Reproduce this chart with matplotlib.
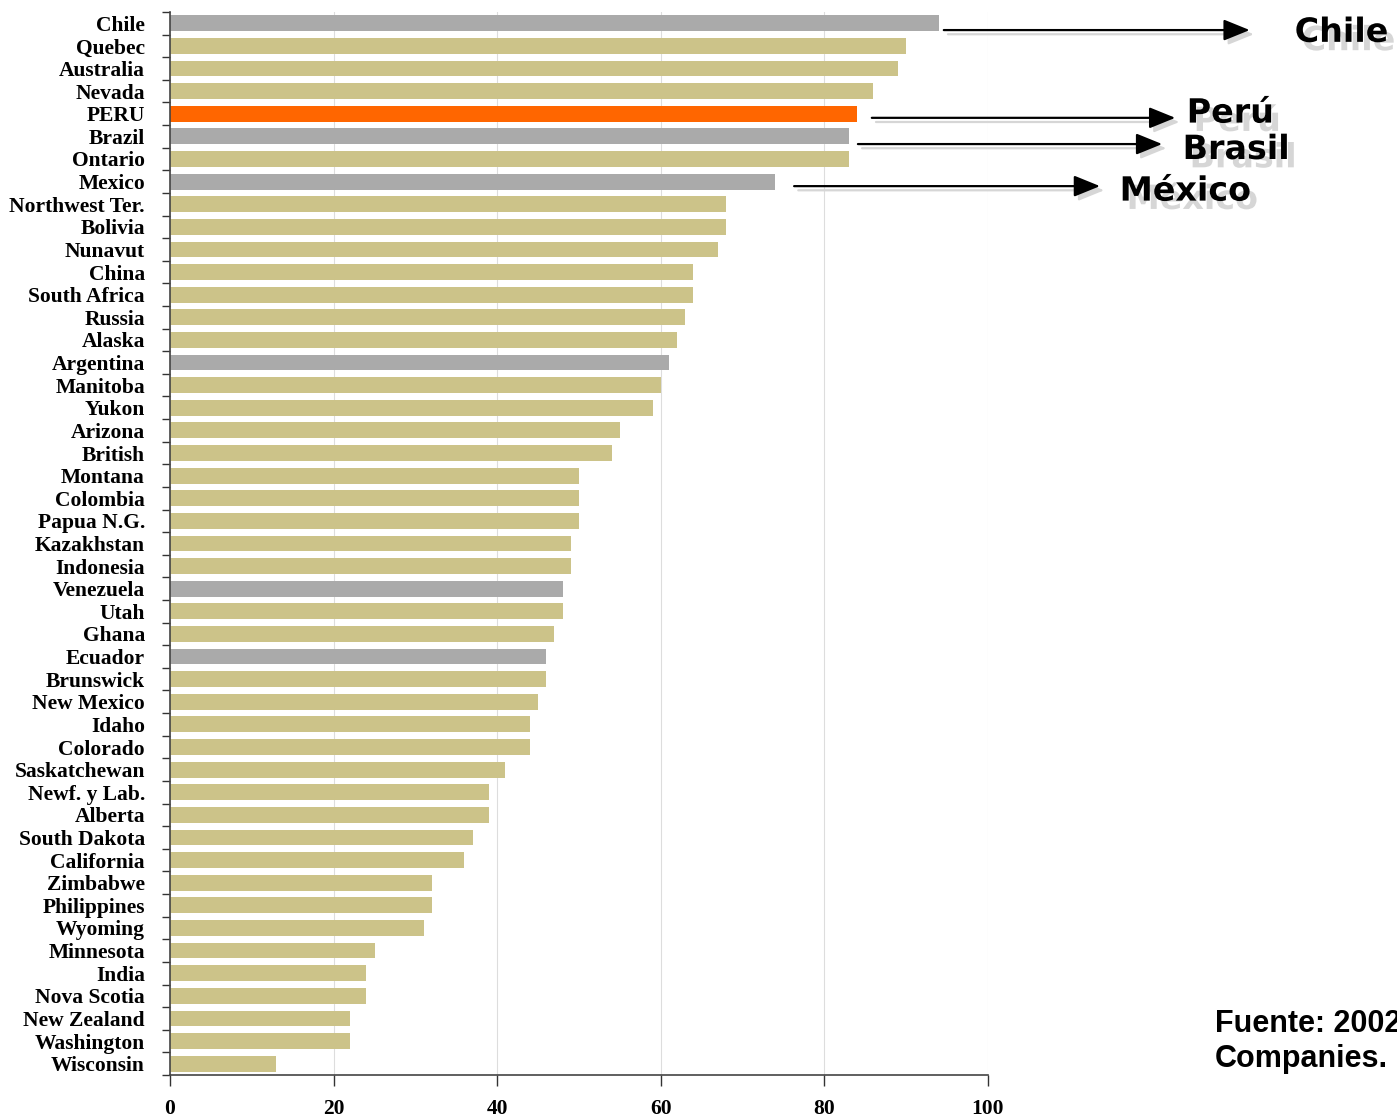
import numpy as np
import matplotlib
matplotlib.use("Agg")
import matplotlib.pyplot as plt
import matplotlib.patheffects as pe

# data (top to bottom as in the chart)
regions = ["Chile", "Quebec", "Australia", "Nevada", "PERU", "Brazil", "Ontario",
           "Mexico", "Northwest Ter.", "Bolivia", "Nunavut", "China", "South Africa",
           "Russia", "Alaska", "Argentina", "Manitoba", "Yukon", "Arizona", "British",
           "Montana", "Colombia", "Papua N.G.", "Kazakhstan", "Indonesia", "Venezuela",
           "Utah", "Ghana", "Ecuador", "Brunswick", "New Mexico", "Idaho", "Colorado",
           "Saskatchewan", "Newf. y Lab.", "Alberta", "South Dakota", "California",
           "Zimbabwe", "Philippines", "Wyoming", "Minnesota", "India", "Nova Scotia",
           "New Zealand", "Washington", "Wisconsin"]
scores = [94, 90, 89, 86, 84, 83, 83, 74, 68, 68, 67, 64, 64, 63, 62, 61, 60, 59,
          55, 54, 50, 50, 50, 49, 49, 48, 48, 47, 46, 46, 45, 44, 44, 41, 39, 39,
          37, 36, 32, 32, 31, 25, 24, 24, 22, 22, 13]
latam = ["Chile", "Brazil", "Mexico", "Argentina", "Venezuela", "Ecuador"]
highlight = "PERU"
xticks = [0, 20, 40, 60, 80, 100]

# callouts: region, label, gap after bar, arrow tip x, arrow y, label x, label y (data units)
callouts = [("Chile", "Chile", 0.6, 132.0, 0.30, 137.5, 0.40),
            ("PERU", "Perú", 1.8, 122.9, 4.18, 124.3, 3.97),
            ("Brazil", "Brasil", 1.1, 121.3, 5.34, 123.8, 5.58),
            ("Mexico", "México", 2.3, 113.7, 7.20, 116.1, 7.42)]

c_tan = "#CCC389"
c_gray = "#AAAAAA"
c_orange = "#FF6600"

colors = []
for r in regions:
    if r == highlight:
        colors.append(c_orange)
    elif r in latam:
        colors.append(c_gray)
    else:
        colors.append(c_tan)

fig = plt.figure(figsize=(13.97, 11.2), dpi=100)
ax = fig.add_axes([0.1217, 0.0402, 0.5855, 0.9491])

y = np.arange(len(regions))
ax.barh(y, scores, height=0.7, color=colors, zorder=2)
ax.set_ylim(len(regions) - 0.5, -0.5)
ax.set_xlim(0, 100)

ax.set_yticks(y)
ax.set_yticklabels(regions, fontfamily="Liberation Serif", fontweight="bold", fontsize=15.5)
ax.set_yticks(np.arange(-0.5, len(regions), 1), minor=True)
ax.tick_params(axis="y", which="major", length=0, pad=18)
ax.tick_params(axis="y", which="minor", length=6, width=1, color="#333333", direction="out")

ax.set_xticks(xticks)
ax.set_xticklabels([str(v) for v in xticks], fontfamily="Liberation Serif",
                   fontweight="bold", fontsize=15.5)
ax.tick_params(axis="x", length=8, width=1, color="#333333", pad=9)

ax.xaxis.grid(True, color="#DDDDDD", linewidth=0.8, zorder=0)
ax.set_axisbelow(True)
for s in ["top", "right"]:
    ax.spines[s].set_visible(False)
for s in ["left", "bottom"]:
    ax.spines[s].set_color("#444444")
    ax.spines[s].set_linewidth(1.2)

shadow_txt = [pe.SimplePatchShadow(offset=(5, -6), shadow_rgbFace="#D6D6D6", alpha=1),
              pe.Normal()]
shadow_arrow = [pe.SimplePatchShadow(offset=(3, -3), shadow_rgbFace="#D6D6D6", alpha=1),
                pe.SimpleLineShadow(offset=(3, -3), shadow_color="#D6D6D6", alpha=1),
                pe.Normal()]
for reg, lab, gap, tip, ay, tx, ty in callouts:
    i = regions.index(reg)
    start = scores[i] + gap
    ax.annotate("", xy=(tip, ay), xytext=(start, ay), annotation_clip=False,
                arrowprops=dict(arrowstyle="-|>,head_length=1.6,head_width=0.65",
                                color="black", lw=1.6, shrinkA=0, shrinkB=0,
                                path_effects=shadow_arrow))
    ax.text(tx, ty, lab, fontfamily="DejaVu Sans", fontweight="bold",
            fontsize=24, va="center", ha="left", clip_on=False, path_effects=shadow_txt)

fig.text(0.8697, 0.070, "Fuente: 2002 Annual Survey of Mining\nCompanies.",
         fontfamily="Liberation Sans", fontweight="bold", fontsize=22,
         ha="left", va="center", linespacing=1.2)

plt.savefig("out.png", dpi=100)
